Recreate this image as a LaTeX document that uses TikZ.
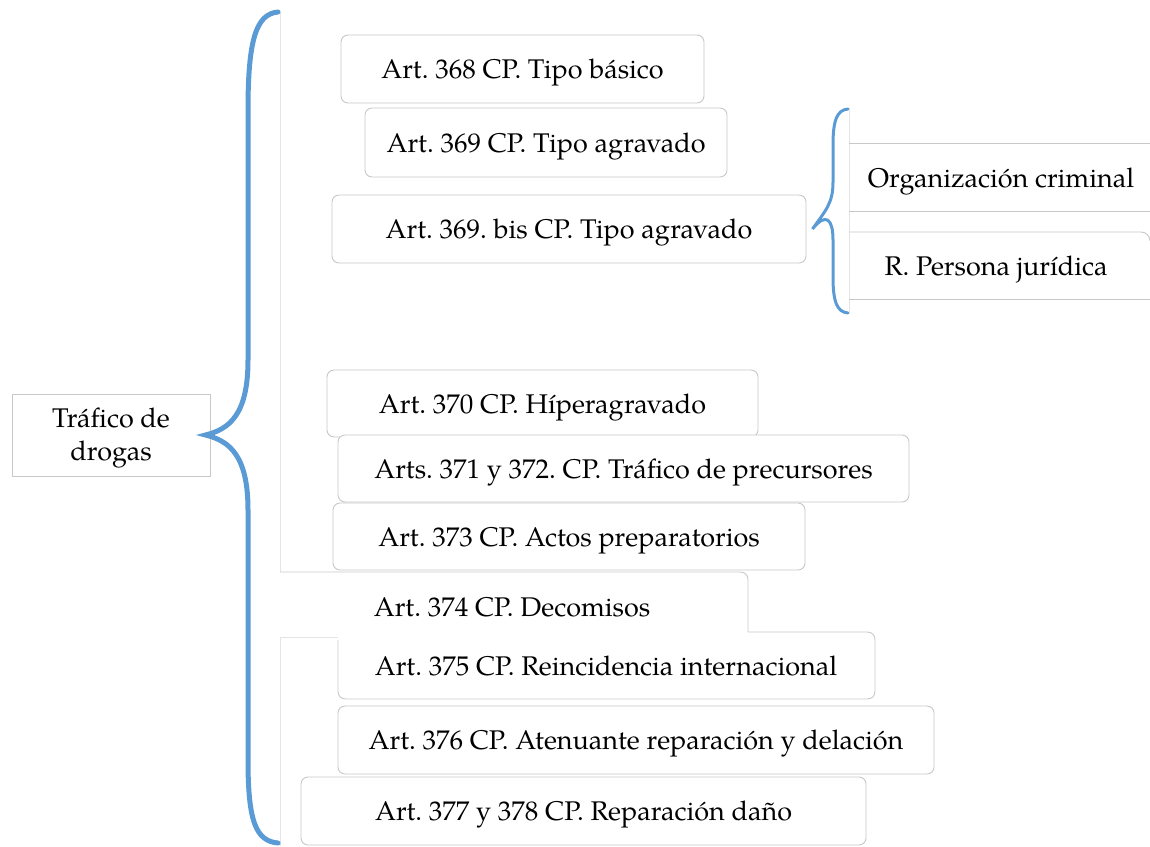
\documentclass[tikz,border=0pt]{standalone}
\usepackage{fontspec}
\setmainfont{TeX Gyre Pagella}
\frenchspacing
\definecolor{bracebl}{HTML}{5B9BD5}
\definecolor{boxgray}{HTML}{C8C8C8}
\definecolor{faint}{HTML}{E4E4E4}
\begin{document}
\begin{tikzpicture}[x=1pt,y=-1pt,
  txt/.style={font=\fontsize{27}{33}\selectfont, inner sep=0pt, text height=21pt, text depth=2pt},
  artbox/.style={txt, draw=boxgray, line width=0.9pt, rounded corners=7pt, fill=white},
  rootbox/.style={draw=boxgray, line width=0.9pt, fill=white, inner sep=0pt,
    minimum width=198pt, minimum height=82pt},
  rootlbl/.style={font=\fontsize{27}{33}\selectfont, inner sep=0pt, align=center},
  bigbrace/.style={draw=bracebl, line width=5pt, line cap=round},
  smallbrace/.style={draw=bracebl, line width=3pt, line cap=round},
  edge/.style={draw=boxgray, line width=0.9pt},
  ghost/.style={draw=faint, line width=0.9pt}]
\useasboundingbox (0,0) rectangle (1150,846);

% faint guide lines behind the branches
\draw[ghost] (280,12) -- (280,572);
\draw[ghost] (280,846) -- (280,637) -- (338,637);
\draw[ghost] (849,108) -- (849,313);

% root
\node[rootbox] (root) at (111,435) {};
\node[rootlbl] (rootlabel) at (111,438) {Tráfico de\\drogas};

% main branch boxes
\node[artbox, minimum width=363pt, minimum height=68pt] (a368) at (522.5,69) {Art. 368 CP. Tipo básico};
\node[artbox, minimum width=362pt, minimum height=69pt] (a369) at (546,142.5) {Art. 369 CP. Tipo agravado};
\node[artbox, minimum width=474pt, minimum height=68pt] (a369b) at (569,229) {Art. 369. bis CP. Tipo agravado};
\node[artbox, minimum width=431pt, minimum height=67pt] (a370) at (542.5,403.5) {Art. 370 CP. Híperagravado};
\node[artbox, minimum width=571pt, minimum height=67pt] (a371) at (623.5,468.5) {Arts. 371 y 372. CP. Tráfico de precursores};
\node[artbox, minimum width=472pt, minimum height=67pt] (a373) at (569,536.5) {Art. 373 CP. Actos preparatorios};

% boxes 374 and 375 with partly hidden outlines
\draw[edge] (280,572) -- (740,572) .. controls (745,572) and (748,575) .. (748,580) -- (748,632)
  -- (867,632) .. controls (872,632) and (875,635) .. (875,640) -- (875,691)
  .. controls (875,696) and (872,699) .. (867,699) -- (346,699)
  .. controls (341,699) and (338,696) .. (338,691) -- (338,640);
\node[txt] (a374) at (512,607) {Art. 374 CP. Decomisos};
\node[txt] (a375) at (606,666) {Art. 375 CP. Reincidencia internacional};

\node[artbox, minimum width=596pt, minimum height=68pt] (a376) at (636,740) {Art. 376 CP. Atenuante reparación y delación};
\node[artbox, minimum width=565pt, minimum height=68pt] (a377) at (583.5,811) {Art. 377 y 378 CP. Reparación daño};

% sub-branch of art. 369 bis
\draw[edge] (849,143) -- (1160,143);
\draw[edge] (849,211) -- (1160,211);
\node[txt] (org) at (1001,178) {Organización criminal};
\draw[edge] (849,232) -- (1141,232) .. controls (1146,232) and (1150,236) .. (1150,241);
\draw[edge] (849,299) -- (1160,299);
\node[txt] (pj) at (996,266) {R. Persona jurídica};

% braces
\coordinate (bt) at (278,12);
\coordinate (bb) at (278,843);
\draw[bigbrace] (bt) .. controls (256,14) and (248,40) .. (248,110) -- (248,360)
  .. controls (248,414) and (230,429) .. ([xshift=-5pt]root.east)
  .. controls (230,441) and (248,456) .. (248,510) -- (248,760)
  .. controls (248,822) and (256,841) .. (bb);

\coordinate (st) at (848,109);
\coordinate (sb) at (848,313);
\draw[smallbrace] (st) .. controls (837,110) and (833,120) .. (833,145) -- (833,182)
  .. controls (833,203) and (826,210) .. ([xshift=6pt]a369b.east)
  .. controls (826,212) and (833,219) .. (833,240) -- (833,277)
  .. controls (833,302) and (837,312) .. (sb);
\end{tikzpicture}
\end{document}
